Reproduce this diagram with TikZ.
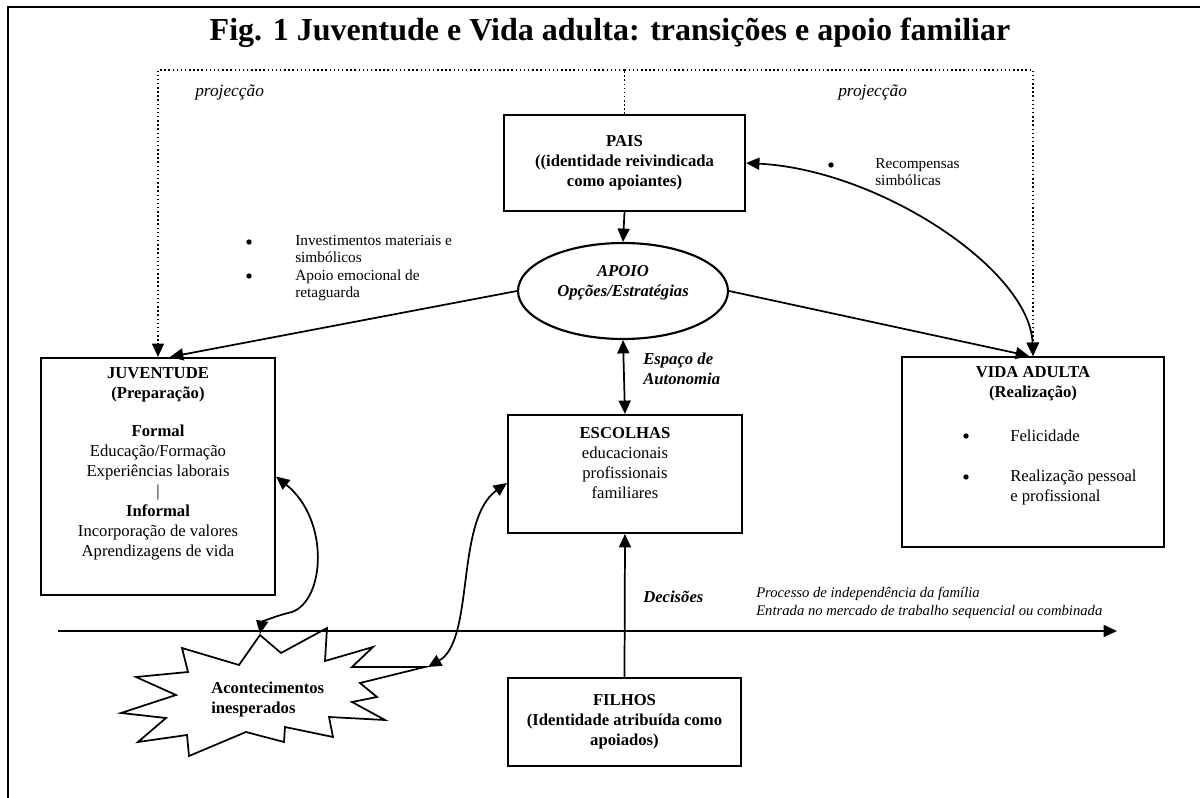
\documentclass[tikz,border=0pt]{standalone}
\usepackage{fontspec}
\setmainfont{Liberation Serif}
\usetikzlibrary{arrows.meta,shapes.geometric}
\newcommand\myBody{\fontsize{12.5pt}{15pt}\selectfont}
\newcommand\mySmall{\fontsize{11.5pt}{12.75pt}\selectfont}
\begin{document}
\begin{tikzpicture}[x=0.75pt,y=-0.75pt,
  box/.style={draw,line width=1.6pt,inner sep=0pt,align=center,font=\myBody\bfseries},
  conn/.style={line width=1.3pt,-{Triangle[length=10pt,width=9pt]}},
  dconn/.style={line width=1.3pt,{Triangle[length=10pt,width=9pt]}-{Triangle[length=10pt,width=9pt]}},
  dotline/.style={line width=1.1pt,dotted},
  dotarrow/.style={line width=1.1pt,dotted,-{Triangle[length=10pt,width=9pt]}},
  txt/.style={inner sep=0pt,align=center,font=\myBody},
  small/.style={inner sep=0pt,align=left,anchor=west,font=\mySmall},
  bullet/.style={circle,fill,inner sep=0pt,minimum size=4pt}
]
\useasboundingbox (0,0) rectangle (1200,798);
% frame
\draw[line width=2.2pt] (8,798) -- (8,7) -- (1200,7);
% title
\node[inner sep=0pt,anchor=base] (title) at (610,41) {\fontsize{24pt}{28pt}\selectfont\bfseries Fig. 1 Juventude e Vida adulta: transições e apoio familiar};

% main nodes
\node[box,minimum width=180.75pt,minimum height=72pt] (pais) at (624.5,163) {PAIS\\((identidade reivindicada\\como apoiantes)};
\node[draw,ellipse,line width=1.6pt,minimum width=157.5pt,minimum height=72pt,inner sep=0pt] (apoio) at (623,291) {};
\node[txt,font=\myBody\bfseries\itshape] (apoiot) at (623,283) {APOIO\\Opções/Estratégias};

\node[box,minimum width=175.5pt,minimum height=177.75pt] (juv) at (158,476.5) {};
\node[txt] (juvt) at (158,464) {\textbf{JUVENTUDE}\\\textbf{(Preparação)}\\[13pt]\textbf{Formal}\\Educação/Formação\\Experiências laborais\\|\\\textbf{Informal}\\Incorporação de valores\\Aprendizagens de vida};

\node[box,minimum width=196.5pt,minimum height=142.5pt] (vida) at (1033,452) {};
\node[txt,font=\myBody\bfseries] (vidat) at (1033,384) {VIDA ADULTA\\(Realização)};
\node[bullet] (vb1) at (966,436) {};
\node[txt,anchor=west] (v1) at (1010,436) {Felicidade};
\node[bullet] (vb2) at (966,477) {};
\node[txt,anchor=west,align=left] (v2) at (1010,487.5) {Realização pessoal\\e profissional};

\node[box,minimum width=175.5pt,minimum height=88.5pt] (esc) at (625,474) {};
\node[txt] (esct) at (625,463) {\textbf{ESCOLHAS}\\educacionais\\profissionais\\familiares};

\node[box,minimum width=174.75pt,minimum height=66pt] (fil) at (624.5,722) {FILHOS\\(Identidade atribuída como\\apoiados)};

% starburst
\draw[line width=1.3pt,fill=white] (260,635) -- (281,653) -- (327,628) -- (325,661) -- (373,647) -- (352,667) -- (425,667) -- (360,683) -- (377,697) -- (352,702) -- (385,720) -- (329,717) -- (333,737) -- (285,727) -- (284,742) -- (246,732) -- (189,756) -- (187,735) -- (138,742) -- (166,718) -- (121,713) -- (176,695) -- (136,677) -- (188,672) -- (182,648) -- (239,665) -- cycle;
\node[txt,font=\myBody\bfseries,align=left,anchor=west] (burst) at (211,699) {Acontecimentos\\inesperados};
\coordinate (bj) at (260,634);
\coordinate (be) at (428,667);

% axis
\coordinate (ax0) at (58,631);
\coordinate (ax1) at (1117,631);
\draw[conn] (ax0) -- (ax1);

% connectors
\draw[conn] (pais.south) -- (apoio.north);
\draw[dconn] (apoio.south) -- (esc.north);
\draw[conn] (fil.north) -- (esc.south);
\draw[conn] (apoio.west) -- ([xshift=9pt]juv.north);
\draw[conn] (apoio.east) -- ([xshift=-3pt]vida.north);
\draw[dconn] (pais.east) .. controls (880,170) and (1030,270) .. (vida.north);
\draw[dconn] (juv.east) .. controls (330,520) and (325,600) .. (292,612) .. controls (275,616) and (262,622) .. (bj);
\draw[dconn] ([yshift=-6.75pt]esc.west) .. controls (455,520) and (475,640) .. (be);

% dotted projection lines
\coordinate (dm) at (624.5,70);
\coordinate (dl) at (158,70);
\coordinate (dr) at (1033,70);
\draw[dotline] (pais.north) -- (dm);
\draw[dotarrow] (dm) -- (dl) -- (juv.north);
\draw[dotarrow] (dm) -- (dr) -- (vida.north);

% labels
\node[small,font=\fontsize{13pt}{15pt}\selectfont\itshape] (proj1) at (195,93) {projecção};
\node[small,font=\fontsize{13pt}{15pt}\selectfont\itshape] (proj2) at (838,93) {projecção};
\node[bullet] (b1) at (249,242) {};
\node[small] (i1) at (295,249.5) {Investimentos materiais e\\simbólicos};
\node[bullet] (b2) at (249,276) {};
\node[small] (i2) at (295,285) {Apoio emocional de\\retaguarda};
\node[bullet] (b3) at (831,165) {};
\node[small] (r1) at (875,172.5) {Recompensas\\simbólicas};
\node[small,font=\myBody\bfseries\itshape] (esp) at (643,368.5) {Espaço de\\Autonomia};
\node[small,font=\myBody\bfseries\itshape] (dec) at (643,597) {Decisões};
\node[small,font=\fontsize{11pt}{13.5pt}\selectfont\itshape] (proc) at (756,603) {Processo de independência da família\\Entrada no mercado de trabalho sequencial ou combinada};
\end{tikzpicture}
\end{document}
